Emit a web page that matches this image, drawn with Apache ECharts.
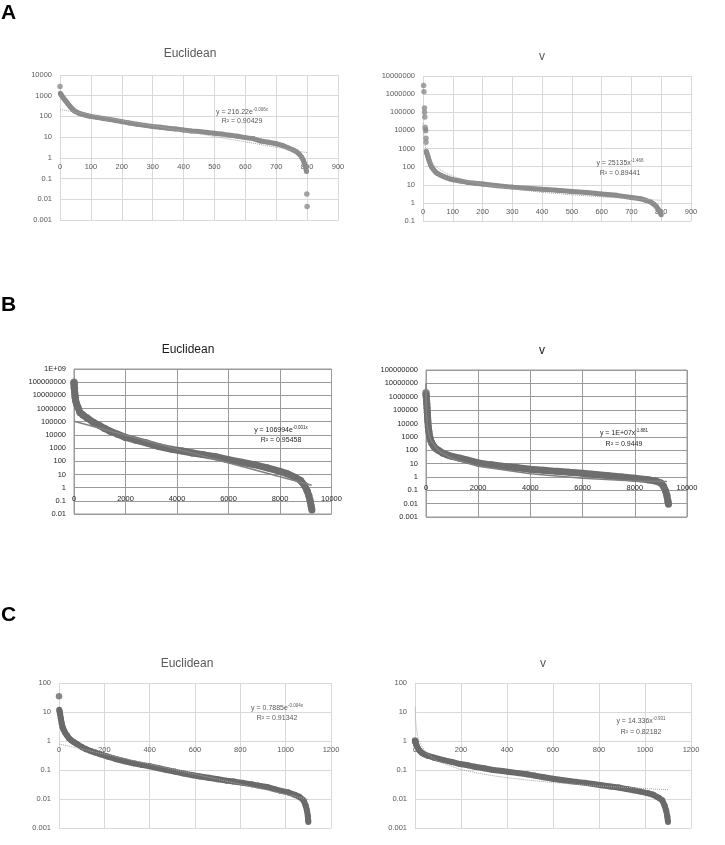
<!DOCTYPE html>
<html><head><meta charset="utf-8">
<script src="https://cdn.jsdelivr.net/npm/echarts@6.0.0/dist/echarts.min.js"></script>
<style>html,body{margin:0;padding:0;background:#fff}#c{width:725px;height:845px}</style>
</head><body><div id="c"></div>
<script>
// ---------------- DATA ----------------
const panelLetters = ['A', 'B', 'C'];
const panelTitles = ['Euclidean', 'v', 'Euclidean', 'v', 'Euclidean', 'v'];

// A – Euclidean
const aEucMain = [[1,1300],[3,1150],[5,1050],[8,900],[12,750],[16,620],[20,520],[25,420],[30,340],[35,280],[40,230],[45,195],[50,170],[60,145],[70,130],[80,118],[90,108],[100,100],[120,90],[140,80],[160,72],[180,64],[200,56],[225,48],[250,42],[275,37],[300,33],[325,30],[350,27],[375,25],[400,22],[425,20],[450,18.5],[475,17],[500,15.5],[525,14],[550,12.5],[575,11],[600,9.5],[625,8.5],[650,6.5],[675,5.7],[700,4.8],[720,4],[740,3],[755,2.4],[765,2],[775,1.5],[782,1.1],[787,0.8],[791,0.55],[795,0.35],[798,0.22]];
const aEucOut = [[0,2800],[799,0.018],[800,0.0045]];
const aEucTrend = [[0,216.22],[800,1.78]];
const aEucEq = ['y = 216.22e', '-0.006x', 'R\u00b2 = 0.90429'];

// A – v
const aVOut = [[2,3000000],[3,1350000],[5,170000],[5,100000],[6,55000],[7,15000],[8,11000],[9,9500],[10,3700],[10,2200]];
const aVMain = [[11,700],[12,600],[14,480],[16,380],[18,300],[20,230],[23,170],[26,120],[30,90],[35,70],[40,55],[45,45],[50,40],[60,33],[70,28],[80,24],[90,21],[100,19],[125,16],[150,13.5],[175,12],[200,11],[250,8.8],[300,7.4],[350,6.5],[400,5.6],[450,4.9],[500,4.3],[550,3.7],[600,3.1],[650,2.6],[700,2.0],[730,1.7],[750,1.35],[765,1.1],[775,0.85],[783,0.65],[790,0.45],[795,0.32],[800,0.22]];
const aVTrend = [[1,25135],[2,9100],[3,5020],[5,2376],[10,860],[20,311],[30,172],[50,81],[75,45],[100,29.4],[150,16.2],[200,10.6],[300,5.9],[400,3.85],[500,2.78],[600,2.13],[700,1.70],[800,1.40]];
const aVEq = ['y = 25135x', '-1.466', 'R\u00b2 = 0.89441'];

// B – Euclidean
const bEucOut = [[0,1e8],[15,3.5e7]];
const bEucMain = [[0,9e7],[5,6e7],[10,4e7],[20,2.5e7],[30,1.5e7],[40,9e6],[50,6e6],[70,3.5e6],[100,2.2e6],[150,1.3e6],[230,5e5],[350,3.2e5],[500,2e5],[750,9e4],[1000,5e4],[1200,3e4],[1400,1.9e4],[1700,1.1e4],[2000,6500],[2400,4000],[2800,2500],[3300,1300],[3800,800],[4200,600],[4600,420],[5000,320],[5500,220],[6000,130],[6500,85],[7000,55],[7500,32],[8000,17],[8300,11],[8600,6],[8800,3.5],[8950,1.5],[9050,0.6],[9120,0.25],[9170,0.1],[9210,0.04],[9240,0.02]];
const bEucTrend = [[0,106994],[9230,1.5]];
const bEucEq = ['y = 106994e', '-0.001x', 'R\u00b2 = 0.95458'];

// B – v
const bVMain = [[0,1.5e6],[10,1e6],[20,6e5],[30,3e5],[40,1.5e5],[50,7e4],[60,3e4],[70,1.5e4],[90,5300],[110,2500],[140,1100],[180,550],[220,340],[300,190],[400,120],[500,90],[650,60],[800,45],[1000,34],[1300,25],[1600,18],[2000,11],[2500,8],[3000,6],[3500,4.8],[4000,3.8],[4500,3.2],[5000,2.6],[5500,2.2],[6000,1.9],[6500,1.5],[7000,1.2],[7500,1.0],[8000,0.8],[8500,0.62],[8800,0.5],[9000,0.35],[9100,0.2],[9180,0.09],[9230,0.04],[9270,0.015],[9290,0.009]];
const bVOut = [[0,2e6]];
const bVTrend = [[1,1e7],[2,2.7e6],[5,4.8e5],[10,1.3e5],[20,3.6e4],[50,6400],[100,1700],[200,470],[500,84],[1000,23],[2000,6.2],[4000,1.7],[6000,0.8],[8000,0.5],[9230,0.45]];
const bVEq = ['y = 1E+07x', '-1.881', 'R\u00b2 = 0.9449'];

// C – Euclidean
const cEucOut = [[0,35]];
const cEucMain = [[1,12],[3,10],[5,8.5],[8,6],[12,4],[16,3],[20,2.5],[26,2],[34,1.6],[44,1.25],[55,1.05],[65,0.92],[78,0.8],[100,0.62],[120,0.52],[140,0.45],[160,0.4],[181,0.35],[215,0.29],[250,0.24],[290,0.2],[328,0.17],[365,0.15],[400,0.135],[440,0.115],[475,0.1],[510,0.088],[550,0.076],[590,0.066],[622,0.06],[660,0.054],[700,0.048],[740,0.043],[770,0.04],[810,0.036],[850,0.032],[880,0.029],[917,0.026],[950,0.022],[980,0.019],[1010,0.017],[1040,0.014],[1060,0.012],[1079,0.009],[1088,0.006],[1094,0.004],[1098,0.0025],[1100,0.0016]];
const cEucTrend = [[0,0.7885],[1100,0.0097]];
const cEucEq = ['y = 0.7885e', '-0.004x', 'R\u00b2 = 0.91342'];

// C – v
const cVOut = [[0,1.05],[3,0.95]];
const cVMain = [[0,1.0],[2,0.9],[5,0.75],[10,0.62],[15,0.52],[20,0.46],[29,0.39],[40,0.35],[55,0.31],[80,0.27],[100,0.245],[123,0.22],[160,0.19],[196,0.16],[230,0.145],[260,0.13],[300,0.115],[340,0.1],[380,0.092],[410,0.085],[450,0.078],[486,0.071],[520,0.064],[560,0.056],[600,0.05],[630,0.046],[670,0.042],[700,0.039],[740,0.036],[775,0.033],[810,0.03],[850,0.027],[885,0.025],[920,0.022],[950,0.02],[980,0.018],[1010,0.016],[1036,0.014],[1060,0.011],[1075,0.009],[1085,0.006],[1092,0.004],[1097,0.0025],[1100,0.0016]];
const cVTrend = [[1,14.3],[2,7.5],[3,5.2],[5,3.2],[10,1.68],[20,0.88],[50,0.376],[100,0.197],[200,0.103],[300,0.071],[400,0.054],[500,0.044],[600,0.037],[700,0.032],[800,0.028],[900,0.0255],[1000,0.023],[1100,0.021]];
const cVEq = ['y = 14.336x', '-0.931', 'R\u00b2 = 0.82182'];

// axis ranges
const yRanges = [[0.001,1e4],[0.1,1e7],[0.01,1e9],[0.001,1e8],[0.001,100],[0.001,100]];
const xRanges = [[900,100],[900,100],[10000,2000],[10000,2000],[1200,200],[1200,200]];

// ---------------- LAYOUT / STYLE ----------------
const FONT = '"Liberation Sans", Arial, sans-serif';
const light = {grid:'#d9d9d9', text:'#595959', trend:'#a6a6a6', trendType:'dotted', trendW:1, border:false};
const dark  = {grid:'#9a9a9a', text:'#262626', trend:'#808080', trendType:'solid',  trendW:1.5, border:true};

const panels = [
  {box:{left:60, top:75, width:278, height:145}, st:light, main:aEucMain, out:aEucOut, trend:aEucTrend, eq:aEucEq, eqPos:[242,112,121], titlePos:[190,54], col:'#8c8c8c', sz:5, fs:7.5, xm:5, lab:7.5},
  {box:{left:423, top:76, width:268, height:145}, st:light, main:aVMain, out:aVOut, trend:aVTrend, eq:aVEq, eqPos:[620,163,173], titlePos:[542,57], col:'#8c8c8c', sz:5, fs:7.5, xm:5, lab:7.5},
  {box:{left:74, top:369, width:257.5, height:145}, st:dark, main:bEucMain, out:bEucOut, trend:bEucTrend, eq:bEucEq, eqPos:[281,430,440], titlePos:[188,350], col:'#6e6e6e', sz:7, fs:7.5, xm:7, lab:7.5},
  {box:{left:426, top:370, width:261, height:147}, st:dark, main:bVMain, out:bVOut, trend:bVTrend, eq:bVEq, eqPos:[624,433,444], titlePos:[542,351], col:'#6e6e6e', sz:7, fs:7.5, xm:7, lab:7.5},
  {box:{left:59, top:683, width:272, height:145}, st:light, main:cEucMain, out:cEucOut, trend:cEucTrend, eq:cEucEq, eqPos:[277,708,718], titlePos:[187,664], col:'#6a6a6a', sz:6, fs:7.5, xm:5, lab:7.5},
  {box:{left:415, top:683, width:276, height:145}, st:light, main:cVMain, out:cVOut, trend:cVTrend, eq:cVEq, eqPos:[641,721,732], titlePos:[543,664], col:'#6a6a6a', sz:6, fs:7.5, xm:5, lab:7.5}
];
const letterPos = [[1,13],[1,305],[1,615]];

function logLabel(v){
  const e = Math.round(Math.log10(v));
  if (e >= 9) return '1E+' + (e < 10 ? '0' : '') + e;
  if (e >= 0) return '1' + '0'.repeat(e);
  return '0.' + '0'.repeat(-e-1) + '1';
}

const grid = [], xAxis = [], yAxis = [], series = [], graphic = [];
panels.forEach((p, i) => {
  const [ymin, ymax] = yRanges[i];
  const [xmax, xint] = xRanges[i];
  const decades = Math.round(Math.log10(ymax) - Math.log10(ymin));
  const oneOffset = -p.box.height * (0 - Math.log10(ymin)) / decades;
  grid.push(Object.assign({containLabel:false, outerBoundsMode:'none', show:p.st.border, borderColor:p.st.grid, borderWidth:1, backgroundColor:'transparent'}, p.box));
  xAxis.push({gridIndex:i, type:'value', min:0, max:xmax, interval:xint, position:'bottom', offset:oneOffset,
    axisLine:{show:false}, axisTick:{show:false},
    axisLabel:{formatter:v => String(Math.round(v)), fontSize:p.lab, color:p.st.text, margin:p.xm, fontFamily:FONT, showMinLabel:true, showMaxLabel:true},
    splitLine:{show:true, lineStyle:{color:p.st.grid, width:1}}});
  yAxis.push({gridIndex:i, type:'log', logBase:10, min:ymin, max:ymax, interval:1, splitNumber:decades,
    axisLine:{show:false}, axisTick:{show:false},
    axisLabel:{formatter:logLabel, fontSize:p.fs, color:p.st.text, margin:8, fontFamily:FONT, showMinLabel:true, showMaxLabel:true, interval:0},
    splitLine:{show:true, interval:0, lineStyle:{color:p.st.grid, width:1}}});
  series.push({type:'line', xAxisIndex:i, yAxisIndex:i, data:p.main, symbol:'circle', symbolSize:p.sz, showSymbol:true,
    itemStyle:{color:p.col}, lineStyle:{color:p.col, width:p.sz}, silent:true, animation:false, z:2});
  series.push({type:'scatter', xAxisIndex:i, yAxisIndex:i, data:p.out, symbol:'circle', symbolSize:p.sz + 0.5,
    itemStyle:{color:p.col}, silent:true, animation:false, z:2});
  series.push({type:'line', xAxisIndex:i, yAxisIndex:i, data:p.trend, showSymbol:false, symbol:'none',
    lineStyle:{color:p.st.trend, width:p.st.trendW, type:p.st.trendType}, silent:true, animation:false, z:3});

  graphic.push({type:'text', x:p.titlePos[0], y:p.titlePos[1], z:10,
    style:{text:panelTitles[i], font:(p.st.border ? '500 ' : '') + '12px ' + FONT, fill:p.st.border ? '#1a1a1a' : '#595959',
      textAlign:'center', textVerticalAlign:'middle', align:'center', verticalAlign:'middle'}});
  graphic.push({type:'text', x:p.eqPos[0], y:p.eqPos[1], z:10,
    style:{text:'{m|' + p.eq[0] + '}{s|' + p.eq[1] + '}', textAlign:'center', textVerticalAlign:'middle', align:'center', verticalAlign:'middle',
      rich:{m:{fontSize:7, fontFamily:FONT, fill:p.st.text, color:p.st.text, lineHeight:10, verticalAlign:'middle'},
            s:{fontSize:4.5, fontFamily:FONT, fill:p.st.text, color:p.st.text, verticalAlign:'top'}}}});
  graphic.push({type:'text', x:p.eqPos[0], y:p.eqPos[2], z:10,
    style:{text:p.eq[2], font:'7px ' + FONT, fill:p.st.text, textAlign:'center', textVerticalAlign:'middle', align:'center', verticalAlign:'middle'}});
});
panelLetters.forEach((L, k) => {
  graphic.push({type:'text', x:letterPos[k][0], y:letterPos[k][1], z:10,
    style:{text:L, font:'bold 21px ' + FONT, fill:'#000', textAlign:'left', textVerticalAlign:'middle', align:'left', verticalAlign:'middle'}});
});

const chart = echarts.init(document.getElementById('c'), null, {renderer:'canvas'});
chart.setOption({animation:false, backgroundColor:'#ffffff', grid, xAxis, yAxis, series, graphic});
</script></body></html>
